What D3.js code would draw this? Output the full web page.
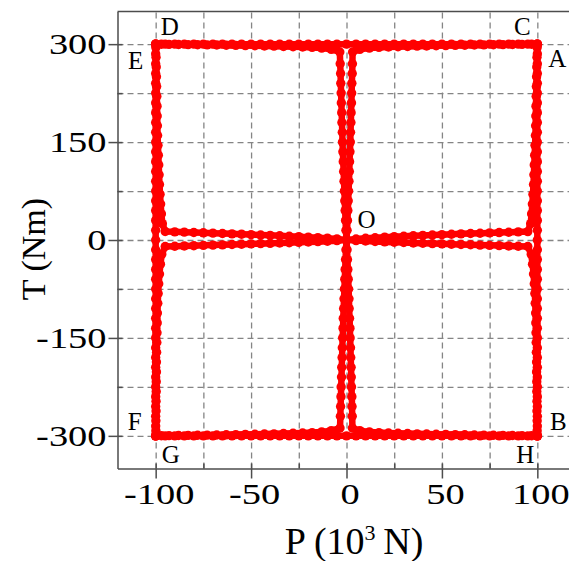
<!DOCTYPE html>
<html>
<head>
<meta charset="utf-8">
<script src="https://cdn.jsdelivr.net/npm/d3@7"></script>
<style>
  html, body { margin: 0; padding: 0; background: #fff; }
  svg { display: block; }
  text { font-family: "Liberation Serif", "Times New Roman", serif; fill: #000; }
</style>
</head>
<body>
<svg id="chart" width="569" height="561"></svg>
<script>
// Axis ticks and grid levels
const P_TICKS = [-100, -50, 0, 50, 100];
const P_MINOR = [-75, -25, 25, 75];
const T_TICKS = [-300, -150, 0, 150, 300];
const T_MINOR = [-225, -75, 75, 225];
const P_GRID = [-100, -75, -50, -25, 0, 25, 50, 75, 100];
const T_GRID = [-300, -225, -150, -75, 0, 75, 150, 225, 300];

// Limits of the load envelope
const P_LIMIT = 100;
const T_LIMIT = 300;
// Sample levels along the envelope sides
const sideT = [300, 285, 270, 255, 240, 225, 210, 195, 180, 165, 150, 135, 120, 105, 90, 75, 60, 45, 30, 15, 0,
  -15, -30, -45, -60, -75, -90, -105, -120, -135, -150, -165, -180, -195, -210, -225, -240, -255, -270, -285, -300];
const sideP = [-100, -95, -90, -85, -80, -75, -70, -65, -60, -55, -50, -45, -40, -35, -30, -25, -20, -15, -10, -5, 0,
  5, 10, 15, 20, 25, 30, 35, 40, 45, 50, 55, 60, 65, 70, 75, 80, 85, 90, 95, 100];

// Loading paths from O, as [P (10^3 N), T (Nm)]
const pathOA = [[0,0],[5,1.6],[10,2.7],[15,3.5],[20,4.3],[25,5.1],[30,5.8],[35,6.4],[40,7.0],[45,7.7],[50,8.2],[55,8.8],[60,9.4],[65,9.9],[70,10.4],[75,10.9],[80,11.4],[85,11.9],[90,12.4],[95,12.9],
  [96.5,25],[97,40],[97.4,55],[97.7,70],[98,85],[98.2,100],[98.4,115],[98.6,130],[98.8,145],[99,160],[99.1,175],[99.2,190],[99.3,205],[99.4,220],[99.5,235],[99.6,250],[99.7,265],[99.8,280],[99.9,295],[100,300]];
const pathOB = [[0,0],[5,-0.9],[10,-1.6],[15,-2.3],[20,-2.9],[25,-3.4],[30,-3.9],[35,-4.5],[40,-5.0],[45,-5.5],[50,-5.9],[55,-6.4],[60,-6.9],[65,-7.3],[70,-7.8],[75,-8.2],[80,-8.6],[85,-9.1],[90,-9.5],[95,-9.9],
  [96.8,-22],[97.5,-37],[98,-52],[98.4,-67],[98.7,-82],[98.9,-97],[99.1,-112],[99.2,-127],[99.3,-142],[99.4,-157],[99.5,-172],[99.6,-187],[99.6,-202],[99.7,-217],[99.7,-232],[99.8,-247],[99.8,-262],[99.9,-277],[99.9,-292],[100,-300]];
const pathOC = [[0,0],[0.3,15],[0.5,30],[0.7,45],[0.9,60],[1.1,75],[1.3,90],[1.5,105],[1.6,120],[1.8,135],[2.0,150],[2.1,165],[2.3,180],[2.4,195],[2.6,210],[2.7,225],[2.8,240],[3.0,255],[3.1,270],[3.2,288],
  [7,292],[12,294],[17,295],[22,295.6],[27,296.1],[32,296.5],[37,296.9],[42,297.2],[47,297.5],[52,297.8],[57,298.1],[62,298.4],[67,298.7],[72,298.9],[77,299.1],[82,299.3],[87,299.5],[92,299.7],[97,299.9],[100,300]];
const pathOD = [[0,0],[-0.3,15],[-0.5,30],[-0.7,45],[-0.9,60],[-1.1,75],[-1.3,90],[-1.5,105],[-1.7,120],[-1.9,135],[-2.1,150],[-2.2,165],[-2.4,180],[-2.5,195],[-2.7,210],[-2.8,225],[-3.0,240],[-3.1,255],[-3.3,270],[-3.5,288],
  [-8,292],[-13,294],[-18,295],[-23,295.6],[-28,296.1],[-33,296.5],[-38,296.9],[-43,297.2],[-48,297.5],[-53,297.8],[-58,298.1],[-63,298.4],[-68,298.7],[-73,298.9],[-78,299.1],[-83,299.3],[-88,299.5],[-93,299.7],[-97,299.9],[-100,300]];
const pathOE = [[0,0],[-5,1.7],[-10,2.8],[-15,3.6],[-20,4.4],[-25,5.1],[-30,5.8],[-35,6.5],[-40,7.1],[-45,7.7],[-50,8.3],[-55,8.9],[-60,9.4],[-65,10.0],[-70,10.5],[-75,11.0],[-80,11.5],[-85,12.0],[-90,12.5],[-95,13.0],
  [-96.5,25],[-97,40],[-97.4,55],[-97.7,70],[-98,85],[-98.2,100],[-98.4,115],[-98.6,130],[-98.8,145],[-99,160],[-99.1,175],[-99.2,190],[-99.3,205],[-99.4,220],[-99.5,235],[-99.6,250],[-99.7,265],[-99.8,280],[-99.9,295],[-100,300]];
const pathOF = [[0,0],[-5,-1.0],[-10,-1.8],[-15,-2.5],[-20,-3.1],[-25,-3.6],[-30,-4.1],[-35,-4.6],[-40,-5.1],[-45,-5.6],[-50,-6.0],[-55,-6.5],[-60,-6.9],[-65,-7.4],[-70,-7.8],[-75,-8.2],[-80,-8.7],[-85,-9.1],[-90,-9.5],[-95,-9.9],
  [-96.8,-22],[-97.5,-37],[-98,-52],[-98.4,-67],[-98.7,-82],[-98.9,-97],[-99.1,-112],[-99.2,-127],[-99.3,-142],[-99.4,-157],[-99.5,-172],[-99.6,-187],[-99.6,-202],[-99.7,-217],[-99.7,-232],[-99.8,-247],[-99.8,-262],[-99.9,-277],[-99.9,-292],[-100,-300]];
const pathOG = [[0,0],[-0.3,-15],[-0.5,-30],[-0.7,-45],[-0.9,-60],[-1.1,-75],[-1.3,-90],[-1.5,-105],[-1.7,-120],[-1.8,-135],[-2.0,-150],[-2.2,-165],[-2.3,-180],[-2.5,-195],[-2.6,-210],[-2.8,-225],[-2.9,-240],[-3.1,-255],[-3.2,-270],[-3.4,-288],
  [-8,-292],[-13,-294],[-18,-295],[-23,-295.6],[-28,-296.1],[-33,-296.5],[-38,-296.9],[-43,-297.2],[-48,-297.5],[-53,-297.8],[-58,-298.1],[-63,-298.4],[-68,-298.7],[-73,-298.9],[-78,-299.1],[-83,-299.3],[-88,-299.5],[-93,-299.7],[-97,-299.9],[-100,-300]];
const pathOH = [[0,0],[0.3,-15],[0.5,-30],[0.7,-45],[0.9,-60],[1.1,-75],[1.3,-90],[1.4,-105],[1.6,-120],[1.8,-135],[1.9,-150],[2.1,-165],[2.2,-180],[2.4,-195],[2.5,-210],[2.6,-225],[2.8,-240],[2.9,-255],[3.0,-270],[3.1,-288],
  [7,-292],[12,-294],[17,-295],[22,-295.6],[27,-296.1],[32,-296.5],[37,-296.9],[42,-297.2],[47,-297.5],[52,-297.8],[57,-298.1],[62,-298.4],[67,-298.7],[72,-298.9],[77,-299.1],[82,-299.3],[87,-299.5],[92,-299.7],[97,-299.9],[100,-300]];

// Point labels and the load state each one marks
const labelNames = ['A', 'B', 'C', 'D', 'E', 'F', 'G', 'H', 'O'];
const labelP = [100, 100, 100, -100, -100, -100, -100, 100, 0];
const labelT = [300, -300, 300, 300, 300, -300, -300, -300, 0];

const W = 569, H = 561;
const svg = d3.select('#chart');
svg.append('rect').attr('width', W).attr('height', H).attr('fill', '#fff');

const plotL = 117.5, plotR = 575.5, plotT = 11.5, plotB = 468.5;
const x = d3.scaleLinear().domain([-120, 120]).range([plotL, plotR]);
const y = d3.scaleLinear().domain([-350, 350]).range([plotB, plotT]);

// Dashed grid
const grid = svg.append('g');
grid.append('g').attr('transform', `translate(0,${plotB})`)
  .call(d3.axisBottom(x).tickValues(P_GRID).tickSize(-(plotB - plotT)).tickFormat(''))
  .call(g => g.select('.domain').remove());
grid.append('g').attr('transform', `translate(${plotL},0)`)
  .call(d3.axisLeft(y).tickValues(T_GRID).tickSize(-(plotR - plotL)).tickFormat(''))
  .call(g => g.select('.domain').remove());
grid.selectAll('line').attr('stroke', '#858585').attr('stroke-width', 1.3).attr('stroke-dasharray', '6,4');

// Envelope and loading paths
const boundary = [].concat(
  sideT.map(t => [P_LIMIT, t]),
  sideP.slice().reverse().map(p => [p, -T_LIMIT]),
  sideT.slice().reverse().map(t => [-P_LIMIT, t]),
  sideP.map(p => [p, T_LIMIT])
);
const series = [boundary, pathOA, pathOB, pathOC, pathOD, pathOE, pathOF, pathOG, pathOH];
const line = d3.line().x(d => x(d[0])).y(d => y(d[1]));
const marks = svg.append('g');
series.forEach(s => {
  marks.append('path').attr('d', line(s)).attr('fill', 'none')
    .attr('stroke', '#ff0000').attr('stroke-width', 6.5)
    .attr('stroke-linejoin', 'round').attr('stroke-linecap', 'round');
  marks.append('g').selectAll('circle').data(s).join('circle')
    .attr('cx', d => x(d[0])).attr('cy', d => y(d[1])).attr('r', 4.7)
    .attr('fill', '#ff0000');
});

// Frame and axes
const axisColor = '#4d4d4d';
const plain = d => String(d);
const axes = svg.append('g');
const bx = axes.append('g').attr('transform', `translate(0,${plotB})`)
  .call(d3.axisBottom(x).tickValues(P_TICKS).tickFormat(plain).tickSizeInner(10).tickSizeOuter(0).tickPadding(4));
const ly = axes.append('g').attr('transform', `translate(${plotL},0)`)
  .call(d3.axisLeft(y).tickValues(T_TICKS).tickFormat(plain).tickSizeInner(9).tickSizeOuter(0).tickPadding(2));
axes.append('g').attr('transform', `translate(0,${plotB})`)
  .call(d3.axisBottom(x).tickValues(P_TICKS.concat(P_MINOR)).tickSize(-5).tickFormat(''))
  .call(g => g.select('.domain').remove());
axes.append('g').attr('transform', `translate(${plotL},0)`)
  .call(d3.axisLeft(y).tickValues(T_TICKS.concat(T_MINOR)).tickSize(-5).tickFormat(''))
  .call(g => g.select('.domain').remove());
axes.append('line').attr('x1', plotL).attr('x2', plotR).attr('y1', plotT).attr('y2', plotT);
axes.selectAll('line').attr('stroke', axisColor).attr('stroke-width', 1.5);
axes.selectAll('.domain').attr('stroke', axisColor).attr('stroke-width', 1.5);

// Tick labels, drawn wide
[bx, ly].forEach(g => g.selectAll('text')
  .attr('font-family', '"Liberation Serif", serif').attr('font-size', 30).attr('fill', '#000')
  .each(function () {
    const w = this.getComputedTextLength();
    d3.select(this).attr('textLength', w * 1.28).attr('lengthAdjust', 'spacingAndGlyphs');
  }));
bx.selectAll('text').attr('dx', 3);

// Axis titles
const xt = svg.append('text').attr('x', 354).attr('y', 554).attr('text-anchor', 'middle')
  .attr('font-size', 38);
xt.append('tspan').text('P (10');
xt.append('tspan').attr('font-size', 22).attr('dy', -14).text('3');
xt.append('tspan').attr('dy', 14).text('\u2009N)');

svg.append('text').attr('transform', 'translate(45,249) rotate(-90)')
  .attr('text-anchor', 'middle').attr('font-size', 34).text('T (Nm)');

// Point labels
const labelOffset = {
  A: [20, 23], B: [21, -6], C: [-15, -9], D: [14, -9], E: [-20, 25],
  F: [-21, -6], G: [15, 27], H: [-12, 27], O: [20, -12]
};
svg.append('g').selectAll('text').data(labelNames).join('text')
  .attr('x', (d, i) => x(labelP[i]) + labelOffset[d][0])
  .attr('y', (d, i) => y(labelT[i]) + labelOffset[d][1])
  .attr('text-anchor', 'middle').attr('font-size', 25).text(d => d);
</script>
</body>
</html>
